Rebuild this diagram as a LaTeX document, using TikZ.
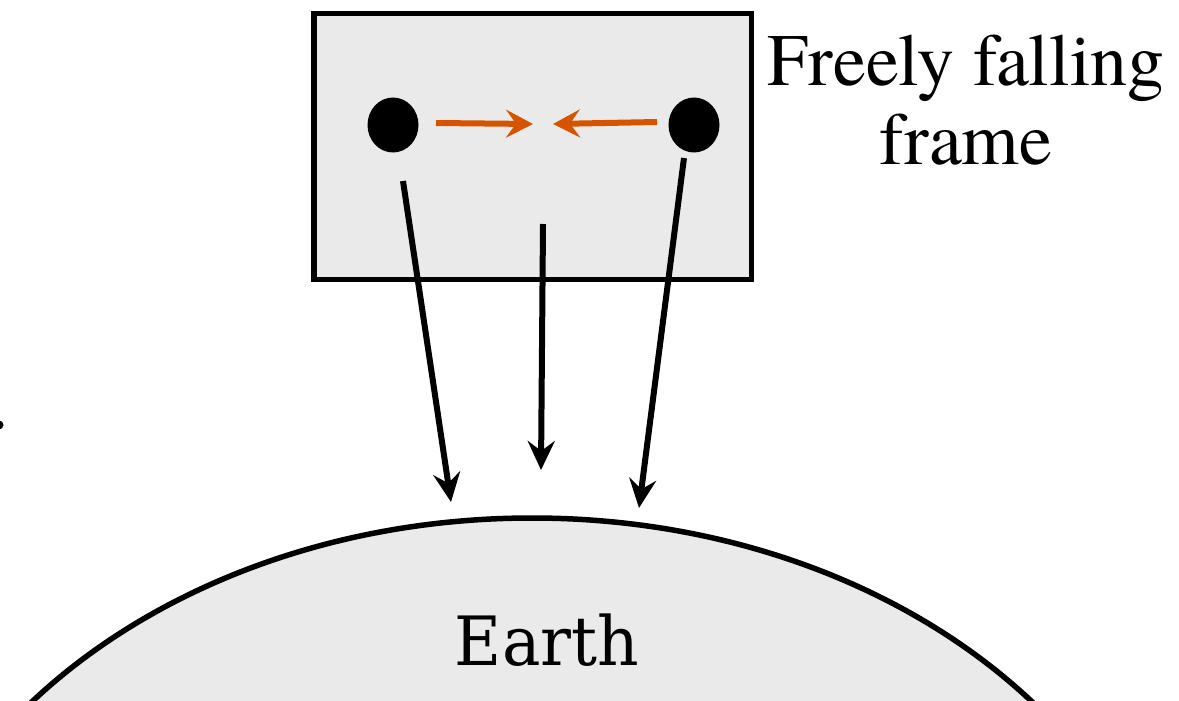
\documentclass[tikz,border=0pt]{standalone}
\usepackage{fontspec}
\newfontfamily\labelfont{texgyretermes-regular.otf}
\newfontfamily\earthfont{DejaVu Serif}
\usetikzlibrary{arrows.meta,shapes.geometric}
\definecolor{boxgray}{RGB}{234,234,234}
\definecolor{pull}{RGB}{214,84,0}
\begin{document}
\begin{tikzpicture}[x=1pt,y=-1pt,
  fallarrow/.style={line width=6pt, -{Stealth[length=29pt,width=27pt,inset=10pt]}},
  tidearrow/.style={draw=pull, line width=6pt, -{Stealth[length=27pt,width=28pt,inset=10pt,fill=pull]}},
  particle/.style={ellipse, fill=black, minimum width=51pt, minimum height=55pt, inner sep=0pt},
  labeltext/.style={font=\labelfont\fontsize{74}{80}\selectfont, anchor=base, inner sep=0pt},
  earthtext/.style={font=\earthfont\fontsize{68}{80}\selectfont, anchor=base, inner sep=0pt},
  outline/.style={draw=black, fill=boxgray, line width=5.5pt}
]
\useasboundingbox (0,0) rectangle (1179,701);
\clip (0,0) rectangle (1179,701);

% Earth
\draw[outline, line width=5.5pt] (532,1025) ellipse [x radius=649, y radius=507];
\node[earthtext, xscale=0.95] (earthlabel) at (547,665) {Earth};

% small partial dot at left edge
\fill (-1,425) circle (4.5);

% freely falling frame
\node[outline, rectangle, minimum width=437.5pt, minimum height=266pt, inner sep=0pt] (frame) at (532.75,146.35) {};

\node[particle] (left) at (393,125) {};
\node[particle] (right) at (694,125) {};

% tidal arrows
\coordinate (lstart) at (436,123);
\coordinate (ltip) at (533,124);
\coordinate (rstart) at (657,122);
\coordinate (rtip) at (553,124);
\draw[tidearrow] (lstart) -- (ltip);
\draw[tidearrow] (rstart) -- (rtip);

% falling arrows
\coordinate (fa1) at (403,181);
\coordinate (fb1) at (451,502);
\coordinate (fa2) at (543,224);
\coordinate (fb2) at (541,470);
\coordinate (fa3) at (684,158);
\coordinate (fb3) at (639,508);
\draw[fallarrow] (fa1) -- (fb1);
\draw[fallarrow] (fa2) -- (fb2);
\draw[fallarrow] (fa3) -- (fb3);

% label
\node[labeltext] (label1) at (966,85) {Freely falling};
\node[labeltext] (label2) at (966,164) {frame};
\end{tikzpicture}
\end{document}
